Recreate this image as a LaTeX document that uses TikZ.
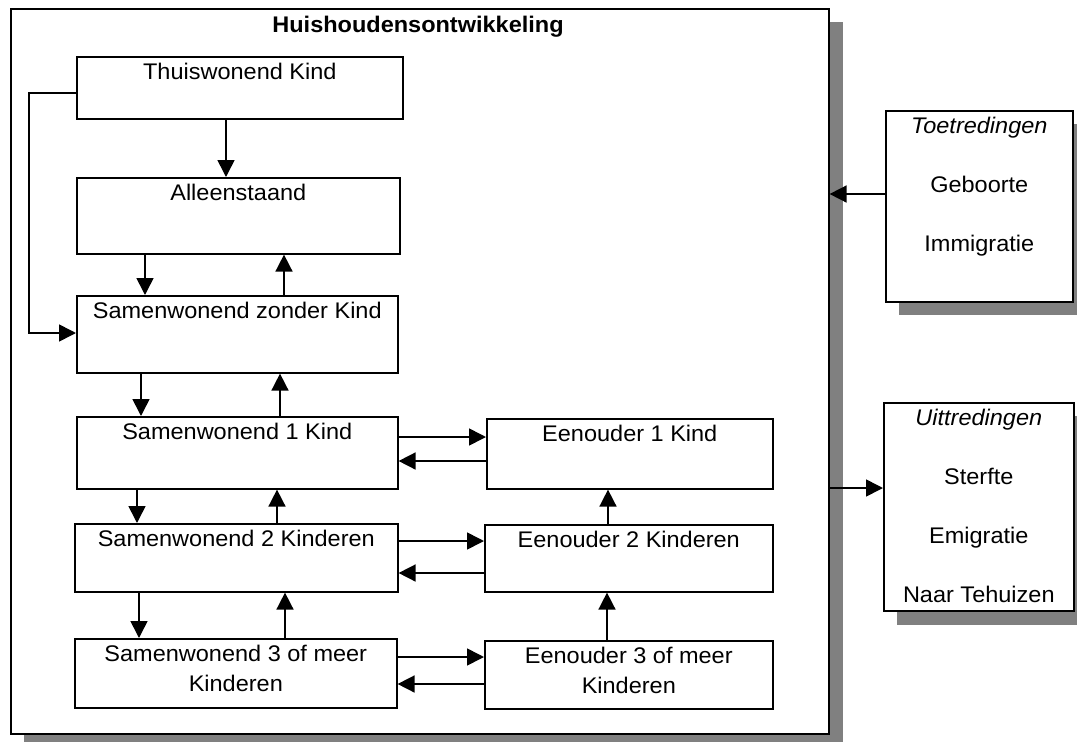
\documentclass[tikz,border=0pt]{standalone}
\usepackage{fontspec}
\setmainfont[FakeStretch=1.04]{Liberation Sans}
\usetikzlibrary{arrows.meta}
\definecolor{shd}{RGB}{128,128,128}
\newcommand{\bxt}[3]{\parbox[t][#2pt][t]{#1pt}{\centering\rule{0pt}{23pt}#3}}
\tikzset{
  box/.style={draw=black, line width=1.6pt, fill=white, inner sep=0pt, anchor=north west},
  arr/.style={draw=black, line width=1.6pt, -{Triangle[length=17pt,width=17pt]}},
  shadowfill/.style={fill=shd}
}
\begin{document}
\begin{tikzpicture}[x=1pt,y=-1pt,font=\fontsize{22.6}{29.5}\selectfont]
\useasboundingbox (0,0) rectangle (1077,742);
% shadows
\fill[shadowfill] (24,22) rectangle (843,742);
\fill[shadowfill] (899,124) rectangle (1077,315);
\fill[shadowfill] (897,416) rectangle (1077,625);
% main frame
\node[box] (main) at (10,8) {\bxt{818}{725}{}};
\node[anchor=base, font=\fontsize{22.6}{29.5}\selectfont\bfseries] (title) at (418,32) {Huishoudensontwikkeling};
% left column
\node[box] (tk) at (76,56)  {\bxt{326}{62}{Thuiswonend Kind}};
\node[box] (al) at (76,177) {\bxt{323}{76}{Alleenstaand}};
\node[box] (sz) at (76,295) {\bxt{321}{77}{Samenwonend zonder Kind}};
\node[box] (s1) at (76,416) {\bxt{321}{72}{Samenwonend 1 Kind}};
\node[box] (s2) at (74,523) {\bxt{323}{68}{Samenwonend 2 Kinderen}};
\node[box] (s3) at (74,638) {\bxt{322}{69}{Samenwonend 3 of meer\\Kinderen}};
% right column
\node[box] (e1) at (486,418) {\bxt{286}{70}{Eenouder 1 Kind}};
\node[box] (e2) at (484,524) {\bxt{288}{67}{Eenouder 2 Kinderen}};
\node[box] (e3) at (484,640) {\bxt{288}{68}{Eenouder 3 of meer\\Kinderen}};
% side boxes
\node[box] (toe) at (885,110) {\bxt{187}{191}{\textit{Toetredingen}\\[29.5pt]Geboorte\\[29.5pt]Immigratie}};
\node[box] (uit) at (883,402) {\bxt{190}{208}{\textit{Uittredingen}\\[29.5pt]Sterfte\\[29.5pt]Emigratie\\[29.5pt]Naar Tehuizen}};
% vertical connectors
\draw[arr] (tk.south -| 226,0) -- (al.north -| 226,0);
\draw[arr] (al.south -| 145,0) -- (sz.north -| 145,0);
\draw[arr] (sz.north -| 284,0) -- (al.south -| 284,0);
\draw[arr] (sz.south -| 141,0) -- (s1.north -| 141,0);
\draw[arr] (s1.north -| 280,0) -- (sz.south -| 280,0);
\draw[arr] (s1.south -| 137,0) -- (s2.north -| 137,0);
\draw[arr] (s2.north -| 277,0) -- (s1.south -| 277,0);
\draw[arr] (s2.south -| 139,0) -- (s3.north -| 139,0);
\draw[arr] (s3.north -| 285,0) -- (s2.south -| 285,0);
\draw[arr] (e2.north -| 608,0) -- (e1.south -| 608,0);
\draw[arr] (e3.north -| 607,0) -- (e2.south -| 607,0);
% horizontal connectors
\draw[arr] (s1.east |- 0,437) -- (e1.west |- 0,437);
\draw[arr] (e1.west |- 0,461) -- (s1.east |- 0,461);
\draw[arr] (s2.east |- 0,541) -- (e2.west |- 0,541);
\draw[arr] (e2.west |- 0,573) -- (s2.east |- 0,573);
\draw[arr] (s3.east |- 0,657) -- (e3.west |- 0,657);
\draw[arr] (e3.west |- 0,684) -- (s3.east |- 0,684);
% loop
\draw[arr] (tk.west |- 0,93) -- (29,93) -- (29,333) -- (sz.west |- 0,333);
% in / out
\draw[arr] (toe.west |- 0,194) -- (main.east |- 0,194);
\draw[arr] (main.east |- 0,488) -- (uit.west |- 0,488);
\end{tikzpicture}
\end{document}
